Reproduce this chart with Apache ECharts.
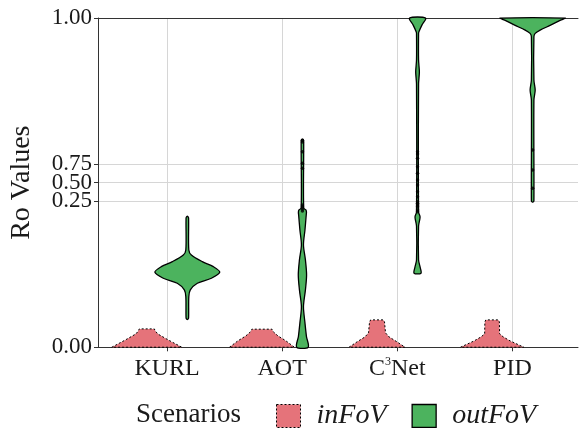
<!DOCTYPE html>
<html><head><meta charset="utf-8">
<script src="https://cdn.jsdelivr.net/npm/echarts@6/dist/echarts.min.js"></script>
<style>html,body{margin:0;padding:0;background:#fff}#c{width:579px;height:428px}</style>
</head><body><div id="c"></div>
<script>
// ---- data ----
const categories = ['KURL', 'AOT', 'C³Net', 'PID'];
const scenarios = ['inFoV', 'outFoV'];
const yTickValues = [0, 0.25, 0.5, 0.75, 1];
const yTickLabels = ['0.00', '0.25', '0.50', '0.75', '1.00'];
// Ro axis is logit-scaled (values clipped to [EPS, 1-EPS])
const EPS = 6.1e-5;
// violin profiles: [logit(Ro), half-width of density in category units]
const inFoV_KURL  = [[-9.70,0.304],[-9.267,0.185],[-8.913,0.094],[-8.737,0.074],[-8.619,0.065]];
const inFoV_AOT   = [[-9.70,0.282],[-9.326,0.209],[-9.031,0.139],[-8.796,0.100],[-8.637,0.087]];
const inFoV_C3Net = [[-9.70,0.243],[-9.385,0.174],[-9.090,0.104],[-8.855,0.074],[-8.207,0.065],[-8.089,0.055]];
const inFoV_PID   = [[-9.70,0.275],[-9.326,0.156],[-9.090,0.096],[-8.913,0.065],[-8.207,0.063],[-8.089,0.055]];
const outFoV_KURL = [[-8.059,0.004],[-7.971,0.011],[-6.717,0.013],[-6.322,0.026],[-5.928,0.087],[-5.633,0.209],[-5.280,0.282],[-4.950,0.226],[-4.655,0.130],[-4.261,0.035],[-3.966,0.013],[-2.082,0.011],[-1.994,0.004]];
const outFoV_AOT  = [[-9.70,0.050],[-9.072,0.035],[-8.266,0.022],[-7.306,0.009],[-6.322,0.026],[-5.439,0.036],[-4.555,0.026],[-3.672,0.009],[-2.788,0.022],[-1.905,0.033],[-1.728,0.035],[-1.610,0.030],[-1.493,0.011],[2.394,0.011],[2.553,0.007]];
const outFoV_C3Net= [[-5.339,0.030],[-4.967,0.022],[-4.555,0.009],[-2.553,0.009],[-2.022,0.022],[-1.728,0.009],[5.810,0.009],[6.516,0.016],[7.223,0.009],[8.800,0.009],[8.900,0.012],[9.284,0.038],[9.70,0.070]];
const outFoV_PID  = [[-1.140,0.004],[-1.081,0.011],[4.867,0.011],[5.456,0.022],[6.045,0.011],[8.595,0.011],[8.796,0.022],[8.990,0.065],[9.284,0.156],[9.579,0.243],[9.70,0.282]];
// individual points (logit(Ro)) drawn on the outFoV violins
const pts_AOT   = [2.50, 2.40, 1.823, 1.140, 0.845, -1.316, -1.434, -1.552, -1.670];
const pts_C3Net = [1.823, 1.687, 1.434, 0.939, 0.551, 0.156, -0.138, -0.533, -0.827, -1.122, -1.216, -1.316, -1.416, -1.611, -1.711];
const pts_PID   = [1.923, 0.745, -0.333];

const inProfiles = [inFoV_KURL, inFoV_AOT, inFoV_C3Net, inFoV_PID];
const outProfiles = [outFoV_KURL, outFoV_AOT, outFoV_C3Net, outFoV_PID];
const DODGE = 0.176;
const RED = '#E5737A', GREEN = '#4CB35E';
const FONT = '"Liberation Serif", "Times New Roman", serif';

function logit(p) { p = Math.min(Math.max(p, EPS), 1 - EPS); return Math.log(p / (1 - p)); }
const yTickPos = yTickValues.map(logit);

function violin(profiles, offset, fill, dash, smooth) {
  return function (params, api) {
    const i = api.value(0);
    const prof = profiles[i];
    const cx = i + offset;
    const pts = [];
    for (let k = 0; k < prof.length; k++) pts.push(api.coord([cx - prof[k][1], prof[k][0]]));
    for (let k = prof.length - 1; k >= 0; k--) pts.push(api.coord([cx + prof[k][1], prof[k][0]]));
    return { type: 'polygon', shape: { points: pts, smooth: smooth },
      style: { fill: fill, stroke: '#000', lineWidth: dash ? 1 : 1.3, lineDash: dash ? [2, 2] : null } };
  };
}

const chart = echarts.init(document.getElementById('c'), null, { renderer: 'canvas' });
const idx = categories.map((c, i) => [i, 0]);
const dots = [];
[[1, pts_AOT], [2, pts_C3Net], [3, pts_PID]].forEach(([i, arr]) => arr.forEach(v => dots.push([i + DODGE, v])));

chart.setOption({
  animation: false,
  grid: { left: 98, top: 18, width: 480, bottom: 80.7 },
  title: { text: 'Scenarios', left: 136, top: 401, padding: 0,
    textStyle: { fontFamily: FONT, fontSize: 27, fontWeight: 'normal', color: '#1a1a1a' } },
  legend: {
    left: 276, top: 402, padding: 0, itemWidth: 24, itemHeight: 23, itemGap: 25,
    textStyle: { fontFamily: FONT, fontSize: 28, fontStyle: 'italic', color: '#1a1a1a', padding: [0, 0, 0, 11] },
    data: [
      { name: 'inFoV', icon: 'rect', itemStyle: { color: RED, borderColor: '#000', borderWidth: 1, borderType: [2, 2] } },
      { name: 'outFoV', icon: 'rect', itemStyle: { color: GREEN, borderColor: '#000', borderWidth: 1.3 } }
    ]
  },
  xAxis: [{
    type: 'value', min: -0.6, max: 3.57,
    axisLine: { onZero: false, lineStyle: { color: '#333', width: 1 } },
    axisTick: { customValues: [0, 1, 2, 3], length: 4, lineStyle: { color: '#333' } },
    axisLabel: { customValues: [0, 1, 2, 3], margin: 9, fontFamily: FONT, fontSize: 24, color: '#1a1a1a',
      formatter: v => categories[Math.round(v)].replace('³', '{sup|3}'),
      rich: { sup: { fontFamily: FONT, fontSize: 12, color: '#1a1a1a', verticalAlign: 'top', padding: [0, 0, 10, 0] } } },
    splitLine: { show: true, lineStyle: { color: '#D6D6D6', width: 1 } }
  }, {
    type: 'value', position: 'top', min: -0.6, max: 3.57,
    axisLine: { show: true, onZero: false, lineStyle: { color: '#333', width: 1 } },
    axisTick: { show: false }, axisLabel: { show: false }, splitLine: { show: false }
  }],
  yAxis: {
    type: 'value', min: logit(0), max: logit(1),
    name: 'Ro Values', nameLocation: 'middle', nameRotate: 90, nameGap: 62,
    nameTextStyle: { fontFamily: FONT, fontSize: 28, color: '#1a1a1a' },
    axisLine: { show: true, onZero: false, lineStyle: { color: '#333', width: 1 } },
    axisTick: { show: true, customValues: yTickPos, length: 4, lineStyle: { color: '#333' } },
    axisLabel: { customValues: yTickPos, margin: 6, fontFamily: FONT, fontSize: 23, color: '#1a1a1a',
      formatter: v => { let b = 0; yTickPos.forEach((p, k) => { if (Math.abs(p - v) < Math.abs(yTickPos[b] - v)) b = k; }); return yTickLabels[b]; } },
    splitLine: { show: true, lineStyle: { color: '#D6D6D6', width: 1 } }
  },
  series: [
    { name: 'inFoV', type: 'custom', data: idx, renderItem: violin(inProfiles, -DODGE, RED, true, 0),
      itemStyle: { color: RED, borderColor: '#000', borderWidth: 1, borderType: [2, 2] }, z: 3 },
    { name: 'outFoV', type: 'custom', data: idx, renderItem: violin(outProfiles, DODGE, GREEN, false, 0.3),
      itemStyle: { color: GREEN, borderColor: '#000', borderWidth: 1.3 }, z: 3 },
    { name: 'points', type: 'scatter', data: dots, symbolSize: 3.5, itemStyle: { color: '#000' }, z: 4 }
  ]
});
</script></body></html>
